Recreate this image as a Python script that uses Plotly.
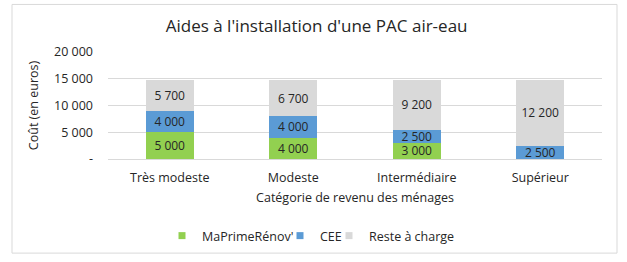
import plotly.graph_objects as go

categories = ["Très modeste", "Modeste", "Intermédiaire", "Supérieur"]
maprimerenov = [5000, 4000, 3000, 0]
cee = [4000, 4000, 2500, 2500]
reste = [5700, 6700, 9200, 12200]
tick_vals = [0, 5000, 10000, 15000, 20000]
tick_text = ["-", "5 000", "10 000", "15 000", "20 000"]
series_names = ["MaPrimeRénov'", "CEE", "Reste à charge"]
series_colors = ["#92D050", "#5B9BD5", "#D9D9D9"]

def fmt(v):
    return "-" if v == 0 else f"{v:,}".replace(",", " ")

FONT = "Open Sans"
TXT = "#262626"
FS = 12.5
L, R, T, B, W, H = 108, 25, 52, 102, 627, 262
PW, PH = W - L - R, H - T - B

def px(x):
    return (x - L) / PW

def py(y):
    return (H - B - y) / PH

fig = go.Figure()
legend_ids = ["legend", "legend2", "legend3"]
for name, vals, col, lg in zip(series_names, [maprimerenov, cee, reste], series_colors, legend_ids):
    fig.add_trace(go.Bar(
        x=categories, y=vals, name=name, marker=dict(color=col, line=dict(width=0)),
        text=[fmt(v) for v in vals], textposition="inside", insidetextanchor="middle",
        textfont=dict(family=FONT, size=12, color=TXT), constraintext="none",
        cliponaxis=False, showlegend=False,
    ))
    fig.add_trace(go.Scatter(
        x=[None], y=[None], mode="markers", name=name, legend=lg,
        marker=dict(symbol="square", size=7, color=col), showlegend=True,
    ))

leg_common = dict(orientation="h", xanchor="left", yanchor="middle", y=py(236),
                  font=dict(size=FS, family=FONT, color=TXT), itemwidth=30,
                  bgcolor="rgba(0,0,0,0)")
fig.update_layout(
    barmode="stack", bargap=0.61,
    width=W, height=H,
    margin=dict(l=L, r=R, t=T, b=B),
    paper_bgcolor="white", plot_bgcolor="white",
    font=dict(family=FONT, color=TXT, size=FS),
    title=dict(text="Aides à l'installation d'une PAC air-eau", x=0.505, xanchor="center",
               y=0.9, yanchor="middle", font=dict(size=17, family=FONT, color=TXT)),
    xaxis=dict(title=dict(text="Catégorie de revenu des ménages", standoff=8,
                          font=dict(size=FS)), tickfont=dict(size=FS),
               showline=False, ticks="", ticklabelstandoff=9),
    yaxis=dict(range=[0, 20000], tickvals=tick_vals, ticktext=tick_text,
               showgrid=True, gridcolor="#D9D9D9", gridwidth=1.3, zeroline=True,
               zerolinecolor="#D9D9D9", zerolinewidth=1.3,
               title=dict(text="Coût (en euros)", standoff=12, font=dict(size=FS)),
               tickfont=dict(size=FS), ticks="", ticklabelstandoff=14),
    legend=dict(x=px(162), **leg_common),
    legend2=dict(x=px(280), **leg_common),
    legend3=dict(x=px(329), **leg_common),
    shapes=[dict(type="rect", xref="paper", yref="paper",
                 x0=px(12), x1=px(617), y0=py(255), y1=py(4),
                 line=dict(color="#D9D9D9", width=1), layer="below")],
)
fig.write_html("out.html")
